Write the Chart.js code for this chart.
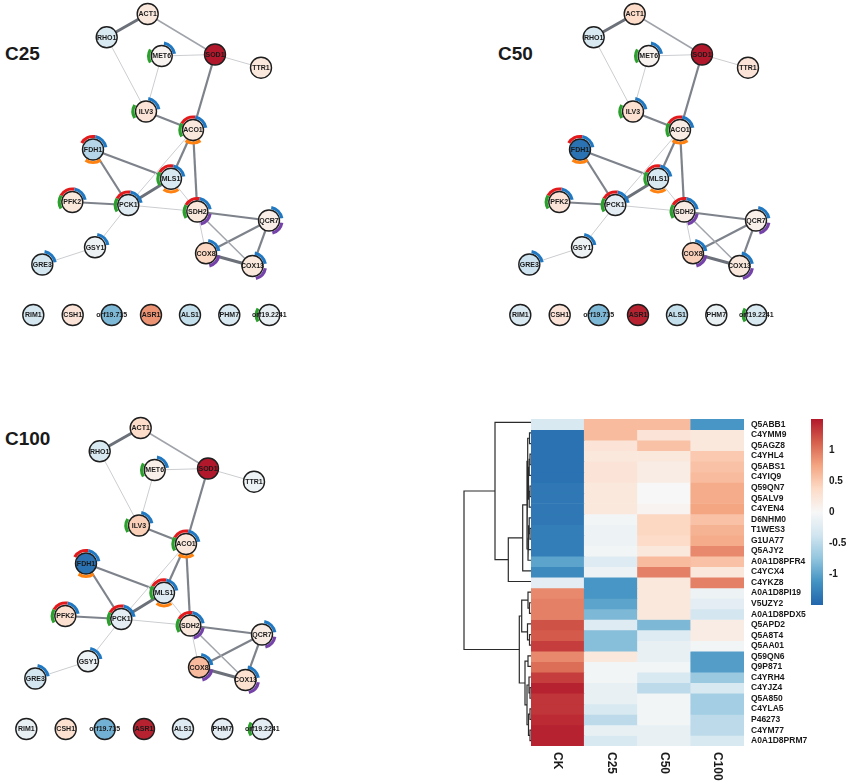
<!DOCTYPE html>
<html>
<head>
<meta charset="utf-8">
<script src="https://cdn.jsdelivr.net/npm/chart.js@4.4.1/dist/chart.umd.min.js"></script>
<style>
  body { margin: 0; background: #fff; }
  #page { position: relative; width: 850px; height: 784px; overflow: hidden; font-family: "Liberation Sans", Arial, sans-serif; }
  #page canvas { position: absolute; }
  .title { position: absolute; font-weight: bold; font-size: 19px; line-height: 19px; color: #1a1a1a; }
</style>
</head>
<body>
<div id="page">
  <div class="title" style="left:5px;top:44px">C25</div>
  <div class="title" style="left:498px;top:44px">C50</div>
  <div class="title" style="left:5px;top:429px">C100</div>
  <canvas id="net-c25" width="300" height="340" style="left:0;top:0"></canvas>
  <canvas id="net-c50" width="300" height="340" style="left:487px;top:0"></canvas>
  <canvas id="net-c100" width="300" height="340" style="left:-7px;top:414px"></canvas>
  <canvas id="dendro" width="78" height="377" style="left:455px;top:407px"></canvas>
  <canvas id="heatmap" width="319" height="377" style="left:531px;top:407px"></canvas>
  <canvas id="colorbar" width="39" height="210" style="left:811px;top:407px"></canvas>
</div>
<script>
// ---- network data ----
const nodeNames = ['ACT1', 'RHO1', 'MET6', 'SOD1', 'TTR1', 'ILV3', 'ACO1', 'FDH1', 'MLS1', 'PFK2', 'PCK1', 'SDH2',
    'QCR7', 'GSY1', 'GRE3', 'COX8', 'COX13', 'RIM1', 'CSH1', 'orf19.715', 'ASR1', 'ALS1', 'PHM7', 'orf19.2241'];
// layout of the graph (same in every panel)
const nodeX = [147.7, 106.7, 161.7, 215, 261, 146, 193, 93, 171, 72.3, 128.3, 197.3,
    269, 95, 42.3, 206, 252.5, 33.3, 72.7, 111.7, 151, 190, 229.3, 269.3];
const nodeY = [14, 37.3, 56, 54.5, 67.7, 111.5, 130, 149.5, 178.8, 202, 205, 211.5,
    220.5, 247.3, 264.5, 253.3, 266, 315, 315, 315, 315, 315, 315, 315];

const valuesC25 = [0.2, -0.3, 0.05, 1.5, 0.2, 0.25, 0.2, -0.55, -0.3, 0.2, -0.25, 0.2,
    0.12, -0.1, -0.35, 0.4, 0.2, -0.35, 0.25, -0.85, 0.85, -0.45, -0.3, -0.15];
const valuesC50 = [0.35, -0.3, 0.05, 1.5, 0.25, 0.3, 0.15, -1.4, -0.3, 0.25, -0.2, 0.15,
    0.1, -0.1, -0.4, 0.45, 0.2, -0.3, 0.25, -0.85, 1.45, -0.45, -0.15, -0.3];
const valuesC100 = [0.35, -0.3, 0.1, 1.5, -0.1, 0.45, 0.2, -1.4, -0.25, 0.3, -0.2, 0.2,
    0.15, -0.1, -0.35, 0.6, 0.3, -0.15, 0.3, -0.9, 1.45, -0.25, -0.2, -0.2];

const edgeSource = ['ACT1', 'ACT1', 'RHO1', 'MET6', 'MET6', 'SOD1', 'SOD1', 'ILV3', 'ACO1', 'ACO1', 'ACO1', 'FDH1', 'FDH1',
    'MLS1', 'MLS1', 'PFK2', 'PCK1', 'PCK1', 'GSY1', 'SDH2', 'SDH2', 'SDH2', 'QCR7', 'QCR7', 'COX8'];
const edgeTarget = ['RHO1', 'SOD1', 'ILV3', 'SOD1', 'ILV3', 'TTR1', 'ACO1', 'ACO1', 'MLS1', 'PCK1', 'SDH2', 'MLS1', 'PCK1',
    'PCK1', 'SDH2', 'PCK1', 'SDH2', 'GSY1', 'GRE3', 'QCR7', 'COX8', 'COX13', 'COX8', 'COX13', 'COX13'];
const edgeWeight = [4, 2, 1, 1, 1, 1, 3, 3, 3, 1, 3, 3, 3, 4, 1, 3, 1, 1, 1, 3, 1, 2, 3, 3, 4];

// pathway membership drawn as rings
const pathRed = ['ACO1', 'FDH1', 'MLS1', 'PFK2', 'PCK1', 'SDH2'];
const pathBlue = ['MET6', 'ILV3', 'ACO1', 'FDH1', 'MLS1', 'PFK2', 'PCK1', 'SDH2', 'QCR7', 'COX8', 'COX13', 'GSY1', 'GRE3'];
const pathGreen = ['MET6', 'ILV3', 'ACO1', 'MLS1', 'PFK2', 'PCK1', 'SDH2', 'orf19.2241'];
const pathOrange = ['ACO1', 'FDH1', 'MLS1'];
const pathPurple = ['SDH2', 'QCR7', 'COX8', 'COX13'];

// ---- heatmap data ----
const proteins = ['Q5ABB1', 'C4YMM9', 'Q5AGZ8', 'C4YHL4', 'Q5ABS1', 'C4YIQ9', 'Q59QN7', 'Q5ALV9', 'C4YEN4', 'D6NHM0',
    'T1WES3', 'G1UA77', 'Q5AJY2', 'A0A1D8PFR4', 'C4YCX4', 'C4YKZ8', 'A0A1D8PI19', 'V5UZY2', 'A0A1D8PDX5', 'Q5APD2',
    'Q5A8T4', 'Q5AA01', 'Q59QN6', 'Q9P871', 'C4YRH4', 'C4YJZ4', 'Q5A850', 'C4YLA5', 'P46273', 'C4YM77', 'A0A1D8PRM7'];
const conditions = ['CK', 'C25', 'C50', 'C100'];
const zCK = [-0.3, -1.4, -1.4, -1.4, -1.4, -1.4, -1.35, -1.35, -1.35, -1.35, -1.3, -1.3, -1.3, -1.0, -1.2, -0.2,
    0.9, 0.95, 0.95, 1.2, 1.15, 1.3, 0.9, 1.05, 1.3, 1.45, 1.35, 1.35, 1.4, 1.45, 1.45];
const zC25 = [0.6, 0.6, 0.25, 0.2, 0.25, 0.25, 0.2, 0.2, 0.2, -0.05, -0.1, -0.1, -0.05, -0.25, -0.1, -1.1,
    -1.1, -1.0, -0.85, -0.25, -0.8, -0.8, 0.2, -0.05, -0.05, -0.15, -0.15, -0.3, -0.5, -0.15, -0.3];
const zC50 = [0.6, 0.25, 0.55, 0.2, 0.15, 0.15, 0.0, 0.0, 0.05, 0.4, 0.4, 0.35, 0.2, 0.6, 0.95, 0.2,
    0.2, 0.2, 0.2, -0.85, -0.25, -0.15, -0.15, -0.05, -0.3, -0.5, -0.05, -0.05, -0.05, -0.15, -0.15];
const zC100 = [-1.1, 0.2, 0.2, 0.5, 0.55, 0.6, 0.7, 0.7, 0.75, 0.55, 0.65, 0.7, 0.9, 0.55, 0.2, 0.95,
    -0.1, -0.2, -0.35, 0.15, 0.15, -0.05, -1.05, -1.05, -0.7, -0.3, -0.65, -0.65, -0.5, -0.5, -0.3];

// row dendrogram: [left, right, height]; ids >= 31 are earlier merges
const linkage = [
    [1, 2, 1.5], [3, 4, 1], [5, 32, 1.8], [6, 7, 1], [34, 8, 1.8], [33, 35, 2.5], [31, 36, 3.3],
    [10, 11, 1], [9, 38, 1.8], [39, 12, 2.5], [40, 13, 3], [37, 41, 4], [42, 14, 8.3], [43, 15, 22.7],
    [0, 44, 36],
    [17, 18, 1.5], [16, 46, 3], [20, 21, 1.5], [19, 48, 3.5], [47, 49, 9.3],
    [22, 23, 3], [25, 26, 1], [24, 52, 2], [27, 28, 1], [29, 30, 1], [54, 55, 2.5], [53, 56, 4], [51, 57, 6],
    [50, 58, 11.7], [45, 59, 67]
];

const colorTicks = [-1, -0.5, 0, 0.5, 1];

// ---- helpers ----
const rdbu = ['#2166ac', '#4393c3', '#92c5de', '#d1e5f0', '#f7f7f7', '#fddbc7', '#f4a582', '#d6604d', '#b2182b'];
const zMin = -1.5, zMax = 1.5;

function hexToRgb(h) {
    return [parseInt(h.slice(1, 3), 16), parseInt(h.slice(3, 5), 16), parseInt(h.slice(5, 7), 16)];
}

function heatColor(v) {
    let t = (v - zMin) / (zMax - zMin) * (rdbu.length - 1);
    t = Math.max(0, Math.min(rdbu.length - 1, t));
    const i = Math.min(Math.floor(t), rdbu.length - 2);
    const f = t - i;
    const a = hexToRgb(rdbu[i]), b = hexToRgb(rdbu[i + 1]);
    const c = a.map((x, k) => Math.round(x + (b[k] - x) * f));
    return `rgb(${c[0]},${c[1]},${c[2]})`;
}

const edgeWidths = [0, 1, 1.5, 2.2, 3];
const edgeColors = ['', '#cbcdd0', '#a0a4aa', '#7e838b', '#6b7079'];

const rings = [
    { members: pathRed, color: '#e31a1c', from: -150, to: -80 },
    { members: pathBlue, color: '#1f78c1', from: -80, to: -10 },
    { members: pathPurple, color: '#7442a8', from: 10, to: 75 },
    { members: pathOrange, color: '#ff8210', from: 55, to: 125 },
    { members: pathGreen, color: '#2ca02c', from: 150, to: 210 }
];

Chart.defaults.font.family = '"Liberation Sans", Arial, sans-serif';
Chart.defaults.animation = false;
Chart.defaults.plugins.legend.display = false;
Chart.defaults.plugins.tooltip.enabled = false;

const networkPlugin = {
    id: 'networkDecor',
    afterDatasetsDraw(chart) {
        const ctx = chart.ctx;
        const pts = chart.getDatasetMeta(0).data;
        ctx.save();
        rings.forEach(r => {
            r.members.forEach(name => {
                const el = pts[nodeNames.indexOf(name)];
                ctx.beginPath();
                ctx.arc(el.x, el.y, 13, r.from * Math.PI / 180, r.to * Math.PI / 180);
                ctx.strokeStyle = r.color;
                ctx.lineWidth = 3.2;
                ctx.lineCap = 'butt';
                ctx.stroke();
            });
        });
        ctx.font = 'bold 7px "Liberation Sans", Arial, sans-serif';
        ctx.textAlign = 'center';
        ctx.textBaseline = 'middle';
        ctx.fillStyle = '#1a1a1a';
        nodeNames.forEach((name, i) => {
            ctx.fillText(name, pts[i].x, pts[i].y + 0.5);
        });
        ctx.restore();
    }
};

function renderNetwork(id, values) {
    const nodes = nodeNames.map((n, i) => ({ x: nodeX[i], y: nodeY[i] }));
    const edgeSets = edgeSource.map((s, k) => {
        const a = nodeNames.indexOf(s), b = nodeNames.indexOf(edgeTarget[k]);
        return {
            data: [nodes[a], nodes[b]],
            showLine: true,
            borderColor: edgeColors[edgeWeight[k]],
            borderWidth: edgeWidths[edgeWeight[k]],
            pointRadius: 0,
            order: 1
        };
    });
    new Chart(document.getElementById(id), {
        type: 'scatter',
        data: {
            datasets: [{
                data: nodes,
                pointRadius: 10.5,
                pointBackgroundColor: values.map(heatColor),
                pointBorderColor: '#1e1e1e',
                pointBorderWidth: 1.4,
                order: 0
            }, ...edgeSets]
        },
        options: {
            responsive: false,
            layout: { padding: 0, autoPadding: false },
            scales: {
                x: { type: 'linear', min: 0, max: 300, display: false },
                y: { type: 'linear', min: 0, max: 340, reverse: true, display: false }
            }
        },
        plugins: [networkPlugin]
    });
}

renderNetwork('net-c25', valuesC25);
renderNetwork('net-c50', valuesC50);
renderNetwork('net-c100', valuesC100);

// ---- heatmap ----
const columnLabels = {
    id: 'columnLabels',
    afterDraw(chart) {
        const ctx = chart.ctx;
        const xs = chart.scales.x;
        ctx.save();
        ctx.font = 'bold 12px "Liberation Sans", Arial, sans-serif';
        ctx.fillStyle = '#1a1a1a';
        ctx.textAlign = 'left';
        ctx.textBaseline = 'middle';
        conditions.forEach((c, j) => {
            ctx.save();
            ctx.translate(xs.getPixelForValue(j), chart.chartArea.bottom + 6);
            ctx.rotate(Math.PI / 2);
            ctx.fillText(c, 0, 0);
            ctx.restore();
        });
        ctx.restore();
    }
};

new Chart(document.getElementById('heatmap'), {
    type: 'bar',
    data: {
        labels: conditions,
        datasets: proteins.map((p, i) => ({
            data: conditions.map(() => [i, i + 1]),
            backgroundColor: [zCK[i], zC25[i], zC50[i], zC100[i]].map(heatColor),
            borderWidth: 0,
            grouped: false,
            barPercentage: 1,
            categoryPercentage: 1
        }))
    },
    options: {
        responsive: false,
        layout: { padding: { top: 10, bottom: 38, left: 0, right: 0 } },
        scales: {
            x: { type: 'category', display: false },
            y: {
                type: 'linear',
                min: 0,
                max: proteins.length,
                reverse: true,
                position: 'right',
                grid: { display: false, drawTicks: false },
                border: { display: false },
                afterBuildTicks: axis => { axis.ticks = proteins.map((_, i) => ({ value: i + 0.5 })); },
                afterFit: axis => { axis.width = 106; },
                ticks: {
                    autoSkip: false,
                    padding: 7,
                    color: '#1a1a1a',
                    font: { size: 8.5, weight: 'bold' },
                    callback: v => proteins[Math.floor(v)]
                }
            }
        }
    },
    plugins: [columnLabels]
});

// ---- dendrogram ----
const nLeaves = proteins.length;
const pos = proteins.map((_, i) => i + 0.5);
const hgt = proteins.map(() => 0);
const dendroSets = linkage.map(([a, b, h]) => {
    const seg = [
        { x: hgt[a], y: pos[a] }, { x: h, y: pos[a] },
        { x: h, y: pos[b] }, { x: hgt[b], y: pos[b] }
    ];
    pos.push((pos[a] + pos[b]) / 2);
    hgt.push(h);
    return { data: seg, showLine: true, borderColor: '#2b2b2b', borderWidth: 1.2, pointRadius: 0 };
});

new Chart(document.getElementById('dendro'), {
    type: 'scatter',
    data: { datasets: dendroSets },
    options: {
        responsive: false,
        layout: { padding: { top: 10, bottom: 38, left: 6, right: 2 }, autoPadding: false },
        scales: {
            x: { type: 'linear', min: 0, max: 70, reverse: true, display: false },
            y: { type: 'linear', min: 0, max: nLeaves, reverse: true, display: false }
        }
    }
});

// ---- colour bar ----
new Chart(document.getElementById('colorbar'), {
    type: 'bar',
    data: {
        labels: [''],
        datasets: [{
            data: [[zMin, zMax]],
            borderWidth: 0,
            barPercentage: 1,
            categoryPercentage: 1,
            backgroundColor: ctx => {
                const { chart } = ctx;
                const area = chart.chartArea;
                if (!area) return '#fff';
                const g = chart.ctx.createLinearGradient(0, area.bottom, 0, area.top);
                rdbu.forEach((c, i) => g.addColorStop(i / (rdbu.length - 1), c));
                return g;
            }
        }]
    },
    options: {
        responsive: false,
        layout: { padding: { top: 10, bottom: 10, left: 0, right: 0 } },
        scales: {
            x: { display: false },
            y: {
                type: 'linear',
                min: zMin,
                max: zMax,
                position: 'right',
                grid: { display: false, drawTicks: false },
                border: { display: false },
                afterBuildTicks: axis => { axis.ticks = colorTicks.map(v => ({ value: v })); },
                afterFit: axis => { axis.width = 27; },
                ticks: {
                    padding: 6,
                    color: '#1a1a1a',
                    font: { size: 10, weight: 'bold' },
                    callback: v => String(v)
                }
            }
        }
    }
});
</script>
</body>
</html>
